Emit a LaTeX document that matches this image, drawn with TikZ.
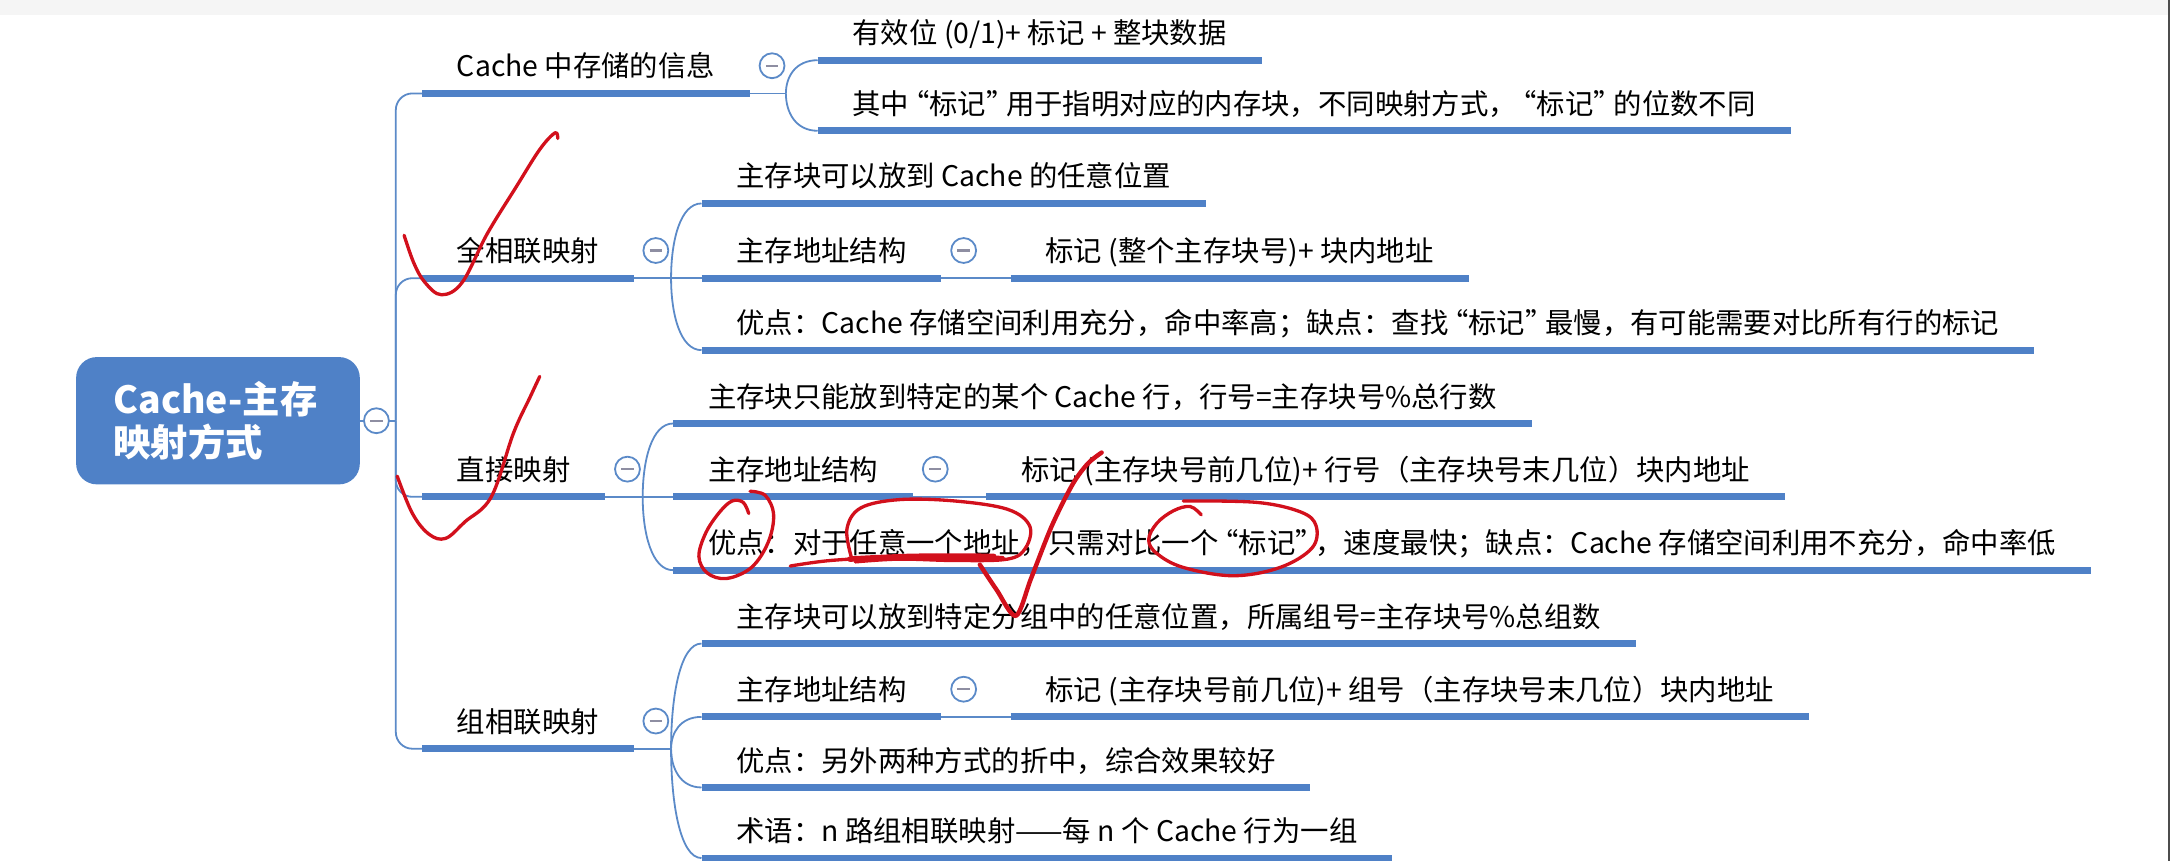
\documentclass[tikz,border=0pt]{standalone}
\usepackage{fontspec}
\newfontfamily\cjkfont{Noto Sans CJK SC}
\usetikzlibrary{calc,positioning}
\definecolor{mapblue}{HTML}{4F81C7}
\definecolor{linkblue}{HTML}{5B8AC8}
\definecolor{foldgray}{HTML}{8E8EA2}
\definecolor{annored}{HTML}{D2101C}
\definecolor{topbar}{HTML}{F5F5F5}
% tighter full-width quotes
\newcommand{\tagq}[1]{\kern-6pt“#1”\kern-6pt}

\begin{document}
\begin{tikzpicture}[
  x=1pt, y=-1pt,
  root/.style={fill=mapblue, rounded corners=15pt, minimum width=205pt,
    minimum height=92pt, text width=151pt, align=left, text=white,
    font=\cjkfont\bfseries\fontsize{27}{31}\selectfont},
  topic/.style={anchor=south west, inner xsep=25pt, inner ysep=0pt,
    text height=16pt, text depth=11.7pt,
    font=\cjkfont\fontsize{20.5}{24}\selectfont},
  uline/.style={draw=mapblue, line width=5pt},
  link/.style={draw=linkblue, line width=1.3pt},
  fan/.style={to path={.. controls ($(\tikztostart)!0.5!(\tikztostart |- \tikztotarget)$)
    and ($(\tikztotarget)!0.7!(\tikztostart |- \tikztotarget)$) .. (\tikztotarget)}},
  fold/.style={circle, draw=linkblue, line width=1.3pt, fill=white,
    minimum size=18pt, inner sep=0pt,
    path picture={\draw[foldgray, line width=1.6pt]
      ([xshift=-4.5pt]path picture bounding box.center) --
      ([xshift=4.5pt]path picture bounding box.center);}},
  redpen/.style={draw=annored, line width=2.4pt, line cap=round, line join=round}
]
\useasboundingbox (0,0) rectangle (1568,622);
\fill[topbar] (0,0) rectangle (1568,11);
\draw[gray!60!black, line width=1.2pt] (1567.4,0) -- (1567.4,622);

% root
\node[root] (root) at (157.5,304) {Cache-主存\\映射方式};
\coordinate (rj) at (286,304);

% first level
\node[topic] (info) at (305,67.5) {Cache 中存储的信息};
\node[topic] (full) at (305,201) {全相联映射};
\node[topic] (direct) at (305,359) {直接映射};
\node[topic] (set) at (305,541) {组相联映射};

\coordinate (jinfo) at ($(info.south east)+(26,0)$);
\coordinate (jfull) at ($(full.south east)+(27,0)$);
\coordinate (jdirect) at ($(direct.south east)+(27,0)$);
\coordinate (jset) at ($(set.south east)+(27,0)$);

% Cache info
\node[topic] (info1) at ($(jinfo)+(23,-24)$) {有效位 (0/1)+ 标记 + 整块数据};
\node[topic] (info2) at ($(jinfo)+(23,27)$) {其中\tagq{标记}用于指明对应的内存块，不同映射方式，\tagq{标记}的位数不同};

% fully associative
\node[topic] (full1) at ($(jfull)+(22,-54)$) {主存块可以放到 Cache 的任意位置};
\node[topic] (full2) at ($(jfull)+(22,0)$) {主存地址结构};
\node[topic] (full3) at ($(jfull)+(22,52)$) {优点：Cache 存储空间利用充分，命中率高；缺点：查找\tagq{标记}最慢，有可能需要对比所有行的标记};
\node[topic] (full2a) at ($(full2.south east)+(50,0)$) {标记 (整个主存块号)+ 块内地址};

% direct mapped
\node[topic] (direct1) at ($(jdirect)+(22,-53)$) {主存块只能放到特定的某个 Cache 行，行号=主存块号\%总行数};
\node[topic] (direct2) at ($(jdirect)+(22,0)$) {主存地址结构};
\node[topic] (direct3) at ($(jdirect)+(22,53)$) {优点：对于任意一个地址，只需对比一个\tagq{标记}，速度最快；缺点：Cache 存储空间利用不充分，命中率低};
\node[topic] (direct2a) at ($(direct2.south east)+(53,0)$) {标记 (主存块号前几位)+ 行号（主存块号末几位）块内地址};

% set associative
\node[topic] (set1) at ($(jset)+(22,-76)$) {主存块可以放到特定分组中的任意位置，所属组号=主存块号\%总组数};
\node[topic] (set2) at ($(jset)+(22,-23)$) {主存地址结构};
\node[topic] (set3) at ($(jset)+(22,28)$) {优点：另外两种方式的折中，综合效果较好};
\node[topic] (set4) at ($(jset)+(22,79)$) {术语：n 路组相联映射——每 n 个 Cache 行为一组};
\node[topic] (set2a) at ($(set2.south east)+(50,0)$) {标记 (主存块号前几位)+ 组号（主存块号末几位）块内地址};

\foreach \n in {info,full,direct,set,info1,info2,full1,full2,full3,full2a,
    direct1,direct2,direct3,direct2a,set1,set2,set3,set4,set2a}
  \draw[uline] (\n.south west) -- (\n.south east);

% connectors
\draw[link] (root.east) -- (rj);
\foreach \b in {info,full,direct,set}
  \draw[link, rounded corners=12pt] (rj) |- (\b.south west);
\foreach \b in {info,full,direct,set}
  \draw[link] (\b.south east) -- (j\b);
\foreach \c in {info1,info2}
  \draw[link] (jinfo) to[fan] (\c.south west);
\foreach \c in {full1,full2,full3}
  \draw[link] (jfull) to[fan] (\c.south west);
\foreach \c in {direct1,direct2,direct3}
  \draw[link] (jdirect) to[fan] (\c.south west);
\foreach \c in {set1,set2,set3,set4}
  \draw[link] (jset) to[fan] (\c.south west);
\draw[link] (full2.south east) -- (full2a.south west);
\draw[link] (direct2.south east) -- (direct2a.south west);
\draw[link] (set2.south east) -- (set2a.south west);

% fold buttons
\node[fold] (rootfold) at (272,304) {};
\foreach \b in {info,full,direct,set,full2,direct2,set2}
  \node[fold] (\b fold) at ($(\b.south east)+(16,-20)$) {};

% red pen marks
\draw[redpen] plot[smooth, tension=0.6] coordinates {(292,170) (299,190) (307,204) (319,213) (334,204) (352,169) (373,135) (390,108) (401,96) (403,100)};
\draw[redpen] plot[smooth, tension=0.6] coordinates {(287,344) (298,371) (310,386) (322,389) (336,377) (355,359) (371,313) (383,287) (390,272)};
\draw[redpen] plot[smooth, tension=0.6] coordinates {(541,371) (537,363) (529,362) (520,370) (510,385) (505,402) (511,414) (525,418) (543,410) (555,392) (559,372) (553,358) (542,355)};
\draw[redpen] plot[smooth, tension=0.6] coordinates {(615,402) (612,382) (622,367) (650,361) (690,362) (728,368) (744,380) (741,396) (728,404) (690,405) (650,404) (618,406)};
\draw[redpen] plot[smooth, tension=0.6] coordinates {(571,409) (600,405) (640,403) (700,402) (725,403)};
\draw[redpen, line width=4pt] plot[smooth, tension=0.6] coordinates {(614,404) (660,402) (718,402)};
\draw[redpen, line width=3.2pt] plot[smooth, tension=0.5] coordinates {(708,408) (720,426) (734,445) (745,418) (760,380) (775,350) (786,335) (796,327)};
\draw[redpen] plot[smooth, tension=0.6] coordinates {(855,362) (908,363) (940,370) (951,380) (948,396) (925,410) (891,416) (855,410) (836,400) (830,390) (836,378) (848,369) (860,366) (868,372)};
\end{tikzpicture}
\end{document}
